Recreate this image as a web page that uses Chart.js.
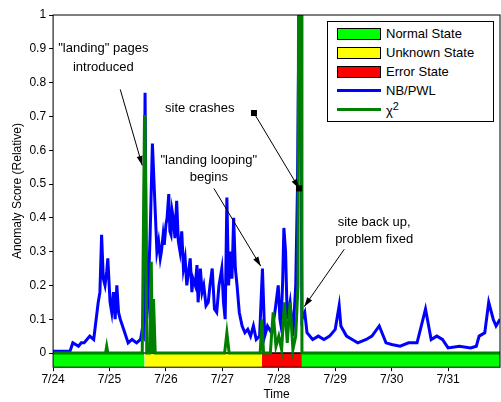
<!DOCTYPE html>
<html>
<head>
<meta charset="utf-8">
<script src="https://cdn.jsdelivr.net/npm/chart.js@4"></script>
<style>
body { margin: 0; background: #fff; }
#wrap { position: relative; width: 501px; height: 402px; }
#legend { position: absolute; left: 327px; top: 21px; width: 165px; border: 1px solid #000; background: #fff;
  font: 13px "Liberation Sans", Arial, sans-serif; padding: 2px 0; }
#legend div { height: 19px; display: flex; align-items: center; }
#legend span.sw { display: inline-block; width: 44px; height: 12px; margin: 0 5px 0 9px; box-sizing: border-box; }
</style>
</head>
<body>
<div id="wrap"><canvas id="c" width="501" height="402"></canvas><div id="legend"></div></div>
<script>
// x = days since 7/24
const tickLabels = ['7/24', '7/25', '7/26', '7/27', '7/28', '7/29', '7/30', '7/31'];
const nbDays = [0, 0.3, 0.35, 0.4, 0.45, 0.5, 0.55, 0.6, 0.65, 0.72, 0.8, 0.83, 0.86, 0.89, 0.92, 0.95, 0.97, 1.01, 1.04, 1.07,
  1.1, 1.13, 1.16, 1.19, 1.25, 1.33, 1.4, 1.48, 1.55, 1.57, 1.6, 1.63, 1.66, 1.68, 1.72, 1.76, 1.79, 1.81, 1.84, 1.87,
  1.9, 1.92, 1.95, 1.97, 2.0, 2.02, 2.05, 2.07, 2.09, 2.11, 2.13, 2.16, 2.19, 2.22, 2.25, 2.28, 2.31, 2.34, 2.37, 2.4,
  2.43, 2.46, 2.48, 2.52, 2.55, 2.57, 2.61, 2.64, 2.67, 2.71, 2.75, 2.78, 2.82, 2.86, 2.9, 2.94, 2.99, 3.02, 3.05, 3.08,
  3.11, 3.14, 3.17, 3.2, 3.23, 3.26, 3.3, 3.35, 3.4, 3.45, 3.5, 3.55, 3.6, 3.66, 3.71, 3.75, 3.8, 3.87, 3.93, 3.99,
  4.02, 4.04, 4.07, 4.09, 4.12, 4.15, 4.2, 4.25, 4.3, 4.33, 4.36, 4.38, 4.41, 4.46, 4.5, 4.6, 4.7, 4.8, 4.9, 5.0,
  5.07, 5.1, 5.2, 5.3, 5.4, 5.55, 5.65, 5.78, 5.9, 6.0, 6.15, 6.3, 6.45, 6.6, 6.7, 6.8, 6.9, 7.0, 7.2, 7.4,
  7.5, 7.55, 7.65, 7.72, 7.8, 7.85, 7.92];
const nbValues = [0.005, 0.005, 0.03, 0.025, 0.02, 0.03, 0.03, 0.04, 0.05, 0.04, 0.15, 0.18, 0.35, 0.22, 0.2, 0.24, 0.28, 0.15, 0.12, 0.18,
  0.1, 0.2, 0.12, 0.1, 0.07, 0.03, 0.04, 0.03, 0.04, 0.06, 0.05, 0.77, 0.1, 0.15, 0.35, 0.62, 0.5, 0.42, 0.3, 0.33,
  0.28, 0.3, 0.35, 0.32, 0.38, 0.4, 0.47, 0.36, 0.35, 0.42, 0.4, 0.34, 0.45, 0.33, 0.3, 0.36, 0.25, 0.28, 0.2, 0.24,
  0.28, 0.18, 0.22, 0.2, 0.26, 0.15, 0.25, 0.18, 0.2, 0.14, 0.15, 0.2, 0.25, 0.13, 0.12, 0.2, 0.25, 0.15, 0.1, 0.46,
  0.2, 0.3, 0.22, 0.4, 0.25, 0.2, 0.12, 0.08, 0.06, 0.07, 0.05, 0.08, 0.04, 0.05, 0.25, 0.05, 0.08, 0.06, 0.12, 0.2,
  0.1, 0.08, 0.22, 0.37, 0.3, 0.1, 0.15, 0.05, 0.2, 0.48, 1.05, 1.05, 0.1, 0.12, 0.06, 0.04, 0.05, 0.04, 0.05, 0.07,
  0.14, 0.08, 0.05, 0.04, 0.03, 0.04, 0.05, 0.08, 0.03, 0.025, 0.02, 0.03, 0.03, 0.13, 0.04, 0.05, 0.04, 0.015, 0.02, 0.015,
  0.02, 0.05, 0.06, 0.15, 0.1, 0.08, 0.1];
const chiDays = [0, 0.93, 0.95, 0.97, 1.58, 1.62, 1.63, 1.66, 1.71, 1.74, 1.76, 1.78, 1.81, 3.04, 3.08, 3.12, 3.67, 3.7, 3.73,
  3.85, 3.9, 3.95, 4.0, 4.05, 4.1, 4.15, 4.2, 4.25, 4.3, 4.34, 4.35, 4.4, 4.41, 5.07, 7.92];
const chiValues = [0, 0, 0.02, 0, 0, 0.7, 0.7, 0, 0, 0.27, 0, 0.16, 0, 0, 0.06, 0, 0, 0.1, 0,
  0, 0.12, 0.02, 0.05, 0.01, 0.15, 0.03, 0.15, 0.01, 0.05, 0.2, 1.05, 1.05, 0, 0, 0];
const stateNames = ['Normal State', 'Unknown State', 'Error State'];
const stateColors = ['#00ff00', '#ffff00', '#ff0000'];
const stateSpans = [[0, 1.62], [1.62, 3.7], [3.7, 4.41], [4.41, 7.92]];
const stateKinds = [0, 1, 2, 0];

const toXY = (xs, ys) => xs.map((x, i) => ({ x: x, y: ys[i] }));

const datasets = stateSpans.map((s, i) => ({
  label: stateNames[stateKinds[i]],
  data: [{ x: s[0], y: 0 }, { x: s[1], y: 0 }],
  borderColor: '#000', borderWidth: 1.5, pointRadius: 0,
  backgroundColor: stateColors[stateKinds[i]], fill: { value: -0.042 }, order: 3
}));
datasets.push({ label: 'NB/PWL', data: toXY(nbDays, nbValues), borderColor: '#0000ff', borderWidth: 3,
  pointRadius: 0, tension: 0, fill: false, order: 2 });
datasets.push({ label: 'χ2', data: toXY(chiDays, chiValues), borderColor: '#008000', borderWidth: 3,
  pointRadius: 0, tension: 0, fill: false, order: 1 });

const notes = [
  { lines: ['"landing" pages', 'introduced'], x: 0.89, y: [0.9, 0.845], from: [1.19, 0.78], to: [1.58, 0.555] },
  { lines: ['"landing looping"', 'begins'], x: 2.76, y: [0.57, 0.52], from: [2.85, 0.487], to: [3.68, 0.257] },
  { lines: ['site crashes'], x: 2.6, y: [0.725], from: [3.56, 0.71], to: [4.36, 0.487], squares: true },
  { lines: ['site back up,', 'problem fixed'], x: 5.69, y: [0.385, 0.335], from: [5.16, 0.307], to: [4.45, 0.137] }
];

const notePlugin = {
  id: 'notes',
  afterDatasetsDraw(chart) {
    const c = chart.ctx, xs = chart.scales.x, ys = chart.scales.y;
    c.save();
    c.font = '13px "Liberation Sans", Arial, sans-serif';
    c.fillStyle = '#000'; c.strokeStyle = '#000'; c.lineWidth = 1;
    c.textAlign = 'center'; c.textBaseline = 'middle';
    notes.forEach(n => {
      n.lines.forEach((t, i) => c.fillText(t, xs.getPixelForValue(n.x), ys.getPixelForValue(n.y[i])));
      const x1 = xs.getPixelForValue(n.from[0]), y1 = ys.getPixelForValue(n.from[1]);
      const x2 = xs.getPixelForValue(n.to[0]), y2 = ys.getPixelForValue(n.to[1]);
      c.beginPath(); c.moveTo(x1, y1); c.lineTo(x2, y2); c.stroke();
      const a = Math.atan2(y2 - y1, x2 - x1);
      c.beginPath(); c.moveTo(x2, y2);
      c.lineTo(x2 - 10 * Math.cos(a - 0.3), y2 - 10 * Math.sin(a - 0.3));
      c.lineTo(x2 - 10 * Math.cos(a + 0.3), y2 - 10 * Math.sin(a + 0.3));
      c.closePath(); c.fill();
      if (n.squares) { c.fillRect(x1 - 3, y1 - 3, 6, 6); c.fillRect(x2 - 3, y2 - 3, 6, 6); }
    });
    const a = chart.chartArea;
    c.strokeRect(a.left, a.top, a.right - a.left, a.bottom - a.top);
    c.restore();
  }
};

const font = { family: '"Liberation Sans", Arial', size: 12 };
new Chart(document.getElementById('c'), {
  type: 'line',
  data: { datasets: datasets },
  options: {
    responsive: false, animation: false,
    layout: { padding: { top: 15, right: 1, left: 8 } },
    plugins: { legend: { display: false }, tooltip: { enabled: false } },
    scales: {
      x: {
        type: 'linear', min: 0, max: 7.92,
        afterBuildTicks: s => { s.ticks = tickLabels.map((t, i) => ({ value: i })); },
        ticks: { callback: v => tickLabels[v], color: '#000', maxRotation: 0, font: font, padding: 1 },
        grid: { drawOnChartArea: false, tickLength: 4, color: '#000' },
        title: { display: true, text: 'Time', color: '#000', padding: 0, font: font }
      },
      y: {
        min: -0.042, max: 1,
        afterBuildTicks: s => { s.ticks = [0, 0.1, 0.2, 0.3, 0.4, 0.5, 0.6, 0.7, 0.8, 0.9, 1].map(v => ({ value: v })); },
        ticks: { callback: v => (v === 0 ? '0' : v === 1 ? '1' : String(Math.round(v * 10) / 10)), color: '#000', font: font },
        grid: { drawOnChartArea: false, tickLength: 4, color: '#000' },
        title: { display: true, text: 'Anomaly Score (Relative)', color: '#000', padding: 2, font: font }
      }
    }
  },
  plugins: [notePlugin]
});

// legend built from the series names and colours
const lg = document.getElementById('legend');
const items = [0, 1, 2].map(k => ({ label: stateNames[k], fill: stateColors[k] }))
  .concat([{ label: 'NB/PWL', line: '#0000ff' }, { label: 'χ<sup>2</sup>', line: '#008000' }]);
items.forEach(it => {
  const d = document.createElement('div');
  const sw = it.fill ? `<span class="sw" style="background:${it.fill};border:1px solid #000"></span>`
    : `<span class="sw" style="height:3px;background:${it.line}"></span>`;
  d.innerHTML = sw + '<span>' + it.label + '</span>';
  lg.appendChild(d);
});
</script>
</body>
</html>
